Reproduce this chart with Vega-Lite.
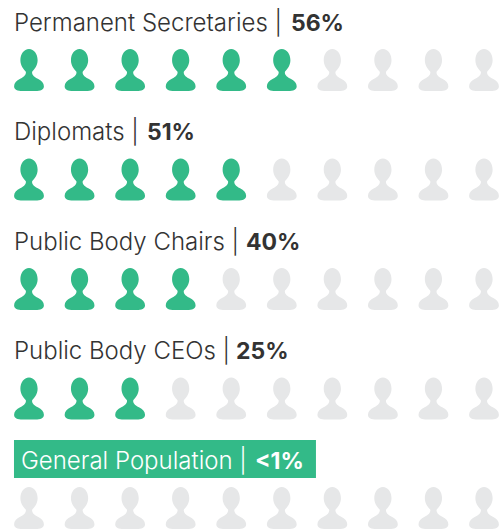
{"$schema":"https://vega.github.io/schema/vega-lite/v6.json","width":499,"height":530,"padding":0,"autosize":{"type":"fit","contains":"padding"},"background":"#ffffff","view":{"stroke":null},
"datasets":{"icons":[
{"row":0,"col":0,"on":1},{"row":0,"col":1,"on":1},{"row":0,"col":2,"on":1},{"row":0,"col":3,"on":1},{"row":0,"col":4,"on":1},{"row":0,"col":5,"on":1},{"row":0,"col":6,"on":0},{"row":0,"col":7,"on":0},{"row":0,"col":8,"on":0},{"row":0,"col":9,"on":0},
{"row":1,"col":0,"on":1},{"row":1,"col":1,"on":1},{"row":1,"col":2,"on":1},{"row":1,"col":3,"on":1},{"row":1,"col":4,"on":1},{"row":1,"col":5,"on":0},{"row":1,"col":6,"on":0},{"row":1,"col":7,"on":0},{"row":1,"col":8,"on":0},{"row":1,"col":9,"on":0},
{"row":2,"col":0,"on":1},{"row":2,"col":1,"on":1},{"row":2,"col":2,"on":1},{"row":2,"col":3,"on":1},{"row":2,"col":4,"on":0},{"row":2,"col":5,"on":0},{"row":2,"col":6,"on":0},{"row":2,"col":7,"on":0},{"row":2,"col":8,"on":0},{"row":2,"col":9,"on":0},
{"row":3,"col":0,"on":1},{"row":3,"col":1,"on":1},{"row":3,"col":2,"on":1},{"row":3,"col":3,"on":0},{"row":3,"col":4,"on":0},{"row":3,"col":5,"on":0},{"row":3,"col":6,"on":0},{"row":3,"col":7,"on":0},{"row":3,"col":8,"on":0},{"row":3,"col":9,"on":0},
{"row":4,"col":0,"on":0},{"row":4,"col":1,"on":0},{"row":4,"col":2,"on":0},{"row":4,"col":3,"on":0},{"row":4,"col":4,"on":0},{"row":4,"col":5,"on":0},{"row":4,"col":6,"on":0},{"row":4,"col":7,"on":0},{"row":4,"col":8,"on":0},{"row":4,"col":9,"on":0}],
"heads":[{"row":0,"name":"Permanent Secretaries |","pct":"56%"},{"row":1,"name":"Diplomats |","pct":"51%"},{"row":2,"name":"Public Body Chairs |","pct":"40%"},{"row":3,"name":"Public Body CEOs |","pct":"25%"},{"row":4,"name":"General Population |","pct":"<1%"}]},
"encoding":{"x":{"type":"quantitative","scale":{"domain":[0,9],"range":[29,484],"nice":false,"zero":false},"axis":null},"y":{"type":"quantitative","scale":{"domain":[0,4],"range":[70,508],"nice":false,"zero":false},"axis":null}},
"layer":[
{"data":{"name":"icons"},"mark":{"type":"point","filled":true,"opacity":1,"size":1764,"shape":"M0,-1C0.24,-1 0.41,-0.76 0.41,-0.47C0.41,-0.2 0.25,-0.04 0.15,0.08C0.13,0.2 0.2,0.3 0.42,0.42C0.6,0.52 0.71,0.62 0.71,0.77C0.71,0.93 0.55,1 0.3,1L-0.3,1C-0.55,1 -0.71,0.93 -0.71,0.77C-0.71,0.62 -0.6,0.52 -0.42,0.42C-0.2,0.3 -0.13,0.2 -0.15,0.08C-0.25,-0.04 -0.41,-0.2 -0.41,-0.47C-0.41,-0.76 -0.24,-1 0,-1Z"},
"encoding":{"x":{"field":"col","type":"quantitative"},"y":{"field":"row","type":"quantitative"},"color":{"field":"on","type":"nominal","scale":{"domain":[0,1],"range":["#e6e7e8","#33ba88"]},"legend":null}}},
{"data":{"name":"heads"},"transform":[{"filter":"datum.row==4"}],"mark":{"type":"rect","color":"#33ba88"},"encoding":{"x":{"datum":-0.297},"x2":{"datum":5.676},"y":{"datum":3.379},"y2":{"datum":3.726}}},
{"data":{"name":"heads"},"transform":[{"filter":"datum.row<4"}],"mark":{"type":"text","font":"Inter","fontSize":24,"fontWeight":300,"align":"left","baseline":"middle","dy":-46.5,"dx":0,"color":"#333333"},"encoding":{"x":{"datum":-0.297},"y":{"field":"row","type":"quantitative"},"text":{"field":"name"}}},
{"data":{"name":"heads"},"transform":[{"filter":"datum.row==4"}],"mark":{"type":"text","font":"Inter","fontSize":24,"fontWeight":300,"align":"left","baseline":"middle","dy":-46.5,"dx":7,"color":"#ffffff"},"encoding":{"x":{"datum":-0.297},"y":{"field":"row","type":"quantitative"},"text":{"field":"name"}}},
{"data":{"name":"heads"},"transform":[{"filter":"datum.row==0"}],"mark":{"type":"text","font":"Inter","fontSize":23,"fontWeight":700,"align":"left","baseline":"middle","dy":-46.5,"dx":277,"color":"#333333"},"encoding":{"x":{"datum":-0.297},"y":{"field":"row","type":"quantitative"},"text":{"field":"pct"}}},
{"data":{"name":"heads"},"transform":[{"filter":"datum.row==1"}],"mark":{"type":"text","font":"Inter","fontSize":23,"fontWeight":700,"align":"left","baseline":"middle","dy":-46.5,"dx":133,"color":"#333333"},"encoding":{"x":{"datum":-0.297},"y":{"field":"row","type":"quantitative"},"text":{"field":"pct"}}},
{"data":{"name":"heads"},"transform":[{"filter":"datum.row==2"}],"mark":{"type":"text","font":"Inter","fontSize":23,"fontWeight":700,"align":"left","baseline":"middle","dy":-46.5,"dx":232,"color":"#333333"},"encoding":{"x":{"datum":-0.297},"y":{"field":"row","type":"quantitative"},"text":{"field":"pct"}}},
{"data":{"name":"heads"},"transform":[{"filter":"datum.row==3"}],"mark":{"type":"text","font":"Inter","fontSize":23,"fontWeight":700,"align":"left","baseline":"middle","dy":-46.5,"dx":222,"color":"#333333"},"encoding":{"x":{"datum":-0.297},"y":{"field":"row","type":"quantitative"},"text":{"field":"pct"}}},
{"data":{"name":"heads"},"transform":[{"filter":"datum.row==4"}],"mark":{"type":"text","font":"Inter","fontSize":23,"fontWeight":700,"align":"left","baseline":"middle","dy":-46.5,"dx":241,"color":"#ffffff"},"encoding":{"x":{"datum":-0.297},"y":{"field":"row","type":"quantitative"},"text":{"field":"pct"}}}
]}
